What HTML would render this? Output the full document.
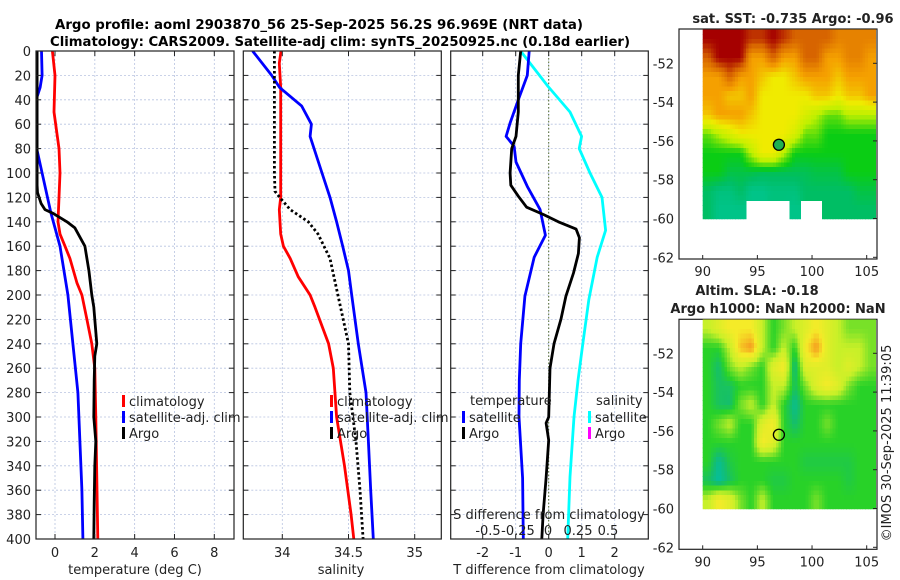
<!DOCTYPE html>
<html><head><meta charset="utf-8"><style>
html,body{margin:0;padding:0;background:#fff;}
svg{display:block;font-family:"DejaVu Sans","Liberation Sans",sans-serif;}
</style></head><body>
<svg id="c" width="900" height="580" viewBox="0 0 900 580" xmlns="http://www.w3.org/2000/svg">
<defs>
<clipPath id="cp1"><rect x="36" y="51" width="198" height="488"/></clipPath>
<clipPath id="cp2"><rect x="243.3" y="51" width="198" height="488"/></clipPath>
<clipPath id="cp3"><rect x="450.7" y="51" width="197.6" height="488"/></clipPath>
<clipPath id="cpm1"><rect x="702.7" y="29" width="173.3" height="190.3"/></clipPath>
<clipPath id="cpm2"><rect x="702.7" y="319.3" width="173.3" height="190"/></clipPath>
</defs>
<text x="55" y="29" font-size="13.5" font-weight="bold" textLength="528" lengthAdjust="spacingAndGlyphs">Argo profile: aoml 2903870_56 25-Sep-2025 56.2S 96.969E (NRT data)</text>
<text x="50" y="46" font-size="13.5" font-weight="bold" textLength="580" lengthAdjust="spacingAndGlyphs">Climatology: CARS2009. Satellite-adj clim: synTS_20250925.nc (0.18d earlier)</text>
<g id="g"></g>
</svg>
<script>
// ---- data ----
const depthTicks=[0,20,40,60,80,100,120,140,160,180,200,220,240,260,280,300,320,340,360,380,400];
const tempTicks=[0,2,4,6,8];
const salTicks=[34,34.5,35];
const tdiffTicks=[-2,-1,0,1,2];
const sdiffTicks=[-0.5,-0.25,0,0.25,0.5];
const sdiffLabels=["-0.5","-0.25","0","0.25","0.5"];
// temperature panel
const argoTDepth=[0,20,50,80,110,116,125,130,133,140,145,160,180,200,210,240,250,270,300,320,340,370,400];
const argoT=[-0.9,-0.9,-0.9,-0.9,-0.9,-0.88,-0.7,-0.5,-0.1,0.6,1.0,1.5,1.7,1.85,1.95,2.1,2.0,1.97,1.95,2.05,2.0,1.97,1.95];
const climTDepth=[0,20,50,80,100,120,140,150,160,170,190,200,220,240,260,300,350,400];
const climT=[-0.13,0,-0.05,0.2,0.25,0.2,0.15,0.25,0.5,0.75,1.1,1.35,1.6,1.85,2.0,2.05,2.1,2.15];
const satTDepth=[0,20,30,40,50,70,80,100,133,160,200,240,280,320,360,400];
const satT=[-0.68,-0.65,-0.75,-0.95,-1.2,-1.2,-0.92,-0.65,-0.2,0.25,0.65,0.9,1.15,1.25,1.35,1.4];
// salinity panel
const satSDepth=[0,20,30,45,60,70,100,120,140,160,180,200,240,280,320,360,400];
const satS=[33.776,33.92,33.98,34.146,34.22,34.21,34.30,34.36,34.41,34.456,34.50,34.524,34.574,34.632,34.65,34.668,34.687];
const climSDepth=[0,10,30,120,130,150,160,170,185,200,210,240,260,300,340,380,400];
const climS=[33.99,33.977,33.988,33.988,33.977,33.988,34.008,34.06,34.12,34.21,34.247,34.35,34.385,34.41,34.47,34.52,34.54];
const argoSDepth=[0,100,115,120,130,140,150,170,180,200,220,240,280,320,360,400];
const argoS=[33.94,33.94,33.945,33.98,34.06,34.196,34.27,34.36,34.38,34.42,34.46,34.50,34.51,34.557,34.587,34.61];
// difference panel
const dSatTDepth=[0,20,40,59,70,78,91,111,130,151,169,201,240,270,300,350,400];
const dSatT=[-0.59,-0.65,-0.92,-1.17,-1.29,-1.05,-0.99,-0.65,-0.26,-0.10,-0.44,-0.72,-0.85,-0.89,-0.9,-0.79,-0.77];
const dArgoTDepth=[0,20,50,70,80,100,110,119,128,134,140,146,153,166,182,201,220,240,260,300,305,319,350,380,400];
const dArgoT=[-0.85,-0.92,-0.92,-0.99,-1.12,-1.17,-1.15,-0.92,-0.67,-0.16,0.29,0.83,0.93,0.90,0.75,0.52,0.37,0.16,0.04,0,-0.08,0,-0.08,-0.17,-0.21];
const dSatSDepth=[0,29,50,70,80,100,120,147,169,204,240,270,300,349,400];
const dSatS=[-0.228,0,0.183,0.28,0.26,0.35,0.45,0.48,0.41,0.34,0.29,0.25,0.217,0.183,0.164];
// maps: rows north->south (~1 deg), cols 90..105 (1 deg)
const sstGrid=[
[6,6,6,6,5.5,5.5,6,5.5,5,5,5,5,4.5,4.5,4.5,4.5],
[5,6,6,6,4,4,5,4,4,5,5,4,4,4.5,4.5,4],
[4,4,5,4,4,3.5,3,3,3.5,4,4,4,3.5,4,4,4],
[4,4,3.5,3.5,4,3,3,3,3,3,3.5,3.5,3,3.5,3.5,4],
[3.5,4,4,4,3.5,3,3,3,3,2.5,2,1.5,1.5,2,2,2],
[1.5,2,2.5,3,3,3,3,3,2.5,1.5,1.5,1,1,1,1,1],
[1,1,1,1,2,3,3,2,1,1,1,1,1,1,1,1],
[1,1,0.7,0.7,0.7,0.6,0.6,0.6,0.6,0.6,0.7,0.7,0.7,1,1,1],
[0.5,0.3,0.3,0.5,0.2,0.2,0.3,0.3,0.3,0.5,0.5,0.5,0.5,0.5,0.7,0.7],
[0.5,0.2,0.2,0.2,-1,-1,-1,-1,0.2,-1,-1,0.5,0.5,0.5,0.5,0.5]];
const slaGrid=[
[2,2.5,3,3,3,2,1,1.5,2,2.5,3,2.5,2,1.5,1.5,1.5],
[1,1,2,3.5,4,2,1,2,1,3,4,2.5,2,2,2,1.5],
[1,0.5,1.5,2,1.5,1,2.5,3,0.3,2.5,2.5,2.5,2,2.5,2,1.5],
[1,0.6,0.6,1,1,1,2,2,0.6,1.5,2.5,3,2.5,1.5,1,1],
[1,0.6,0.5,1.5,2,1,2,1,0.2,1,1,1,1,1,1,1],
[1,1.5,2,1,1,2.5,3,1,0.5,1,1,1.5,1,1,1,1],
[1,1,1,1,1,3,2.5,1,1,1,1,1,1,1,1,1],
[1,0.2,0.8,1,1,1,1,1,1,0.8,0.8,0.8,0.8,0.8,1,1],
[0.6,0.1,0.6,1,1,1,0.8,0.8,1,1,1,1,1,0.8,1,1],
[2,3,2.5,1.5,1,2,1,1,1,1,1.5,1,1,1,1,1]];
const floatLon=96.969, floatLat=-56.2;
const lonTicks=[90,95,100,105];
const latTicks=[-52,-54,-56,-58,-60,-62];

// ---- helpers ----
const NS="http://www.w3.org/2000/svg";
const root=document.getElementById('g');
function mk(tag,attrs,parent){const e=document.createElementNS(NS,tag);for(const k in attrs)e.setAttribute(k,attrs[k]);(parent||root).appendChild(e);return e;}
const Y0=51,Y1=539;
const yD=d=>Y0+(d/400)*(Y1-Y0);
function lin(d0,d1,r0,r1){return v=>r0+(v-d0)/(d1-d0)*(r1-r0);}
const x1=lin(0,8,55,214.3), x2=lin(34,35,282.3,414.7), x3=lin(0,1,548.7,581.7), x3s=lin(0,0.5,548,608);
const panels=[{l:36,r:234,cp:'cp1'},{l:243.3,r:441.3,cp:'cp2'},{l:450.7,r:648.3,cp:'cp3'}];

function grid(p,xt,xf){
  depthTicks.forEach(d=>{
    const l=mk('line',{x1:p.l,x2:p.r,y1:yD(d),y2:yD(d),stroke:'#b8c4e0','stroke-width':0.8,'stroke-dasharray':'2,2'});
    
    
  });
  xt.forEach(v=>{
    const l=mk('line',{x1:xf(v),x2:xf(v),y1:Y0,y2:Y1,stroke:'#b8c4e0','stroke-width':0.8,'stroke-dasharray':'2,2'});
    
    
  });
}
function frame(p,xt,xf,name){
  const r=mk('rect',{x:p.l,y:Y0,width:p.r-p.l,height:Y1-Y0,fill:'none',stroke:'#222','stroke-width':1.2});
  
  
  depthTicks.forEach(d=>{mk('line',{x1:p.l,x2:p.l+5,y1:yD(d),y2:yD(d),stroke:'#222'});mk('line',{x1:p.r-5,x2:p.r,y1:yD(d),y2:yD(d),stroke:'#222'});});
  xt.forEach(v=>{mk('line',{x1:xf(v),x2:xf(v),y1:Y1,y2:Y1-5,stroke:'#222'});mk('line',{x1:xf(v),x2:xf(v),y1:Y0,y2:Y0+5,stroke:'#222'});});
}
function series(depths,vals,xf,color,cp,name,dash){
  const pts=depths.map((d,i)=>xf(vals[i]).toFixed(1)+','+yD(d).toFixed(1)).join(' ');
  const a={points:pts,fill:'none',stroke:color,'stroke-width':2.8,'stroke-linejoin':'round','clip-path':'url(#'+cp+')'};
  if(dash)a['stroke-dasharray']=dash;
  const e=mk('polyline',a);
  
  
}
function txt(x,y,s,attrs,name){const e=mk('text',Object.assign({x:x,y:y,'font-size':13,fill:'#222'},attrs||{}));e.textContent=s;
  
  
  return e;}
function legendRow(x,y,color,label,name){
  const b=mk('rect',{x:x,y:y-11,width:3,height:12,fill:color});
  
  
  txt(x+7,y,label,{'font-size':13},name);
}

// panel 1
grid(panels[0],tempTicks,x1);
series(climTDepth,climT,x1,'#ff0000','cp1','climatology-temp-line');
series(satTDepth,satT,x1,'#0000ff','cp1','satellite-temp-line');
series(argoTDepth,argoT,x1,'#000000','cp1','argo-temp-line');
frame(panels[0],tempTicks,x1,'temperature-axes');
depthTicks.forEach(d=>txt(31,yD(d)+5,String(d),{'text-anchor':'end'},'depth-tick-label'));
tempTicks.forEach(v=>txt(x1(v),557,String(v),{'text-anchor':'middle'},'temp-tick-label'));
txt(135,574,'temperature (deg C)',{'text-anchor':'middle'},'temperature-axis-title');
legendRow(122,406,'#ff0000','climatology','legend-climatology');
legendRow(122,422,'#0000ff','satellite-adj. clim','legend-satellite-adj');
legendRow(122,438,'#000000','Argo','legend-argo');

// panel 2
grid(panels[1],salTicks,x2);
series(climSDepth,climS,x2,'#ff0000','cp2','climatology-sal-line');
series(satSDepth,satS,x2,'#0000ff','cp2','satellite-sal-line');
series(argoSDepth,argoS,x2,'#000000','cp2','argo-sal-line','2.5,2.5');
frame(panels[1],salTicks,x2,'salinity-axes');
salTicks.forEach(v=>txt(x2(v),557,String(v),{'text-anchor':'middle'},'sal-tick-label'));
txt(341,574,'salinity',{'text-anchor':'middle'},'salinity-axis-title');
legendRow(330,406,'#ff0000','climatology','legend-climatology-2');
legendRow(330,422,'#0000ff','satellite-adj. clim','legend-satellite-adj-2');
legendRow(330,438,'#000000','Argo','legend-argo-2');

// panel 3
grid(panels[2],tdiffTicks,x3);
const zl=mk('line',{x1:x3(0),x2:x3(0),y1:Y0,y2:Y1,stroke:'#556b2f','stroke-width':1,'stroke-dasharray':'1.5,2'});


series(dSatSDepth,dSatS,x3s,'#00ffff','cp3','satellite-sal-diff-line');
series(dSatTDepth,dSatT,x3,'#0000ff','cp3','satellite-temp-diff-line');
series(dArgoTDepth,dArgoT,x3,'#000000','cp3','argo-temp-diff-line');
frame(panels[2],tdiffTicks,x3,'difference-axes');
tdiffTicks.forEach(v=>txt(x3(v),557,String(v),{'text-anchor':'middle'},'tdiff-tick-label'));
txt(549,574,'T difference from climatology',{'text-anchor':'middle'},'tdiff-axis-title');
txt(549,519,'S difference from climatology',{'text-anchor':'middle'},'sdiff-axis-title');
sdiffTicks.forEach((v,i)=>txt(x3s(v),535,sdiffLabels[i],{'text-anchor':'middle'},'sdiff-tick-label'));
txt(470,405,'temperature',{},'legend-temperature-title');
legendRow(462,422,'#0000ff','satellite','legend-temp-satellite');
legendRow(462,438,'#000000','Argo','legend-temp-argo');
txt(596,405,'salinity',{},'legend-salinity-title');
legendRow(588,422,'#00ffff','satellite','legend-sal-satellite');
legendRow(588,438,'#ff00ff','Argo','legend-sal-argo');

// ---- maps ----
function sstColor(v){
  if(v<0)return null;
  const stops=[[0,[0,200,160]],[0.5,[0,190,100]],[1,[10,205,20]],[2,[190,240,0]],[3,[240,235,0]],[4,[245,160,0]],[5,[215,100,0]],[6,[165,0,0]]];
  return interp(stops,v);
}
function slaColor(v){
  const stops=[[0,[0,190,170]],[0.5,[20,190,110]],[1,[40,210,40]],[2,[200,240,40]],[3,[245,235,40]],[4,[245,150,30]]];
  return interp(stops,v);
}
function interp(stops,v){
  for(let i=0;i<stops.length-1;i++){const a=stops[i],b=stops[i+1];if(v<=b[0]){const t=(v-a[0])/(b[0]-a[0]);const c=a[1].map((x,k)=>Math.round(x+(b[1][k]-x)*Math.max(0,t)));return 'rgb('+c+')';}}
  return 'rgb('+stops[stops.length-1][1]+')';
}
// smooth display sampling of a grid (rendering only)
function sample(gr,fr,fc){
  const nr=gr.length,nc=gr[0].length;
  const r=Math.min(Math.max(fr-0.5,0),nr-1), c=Math.min(Math.max(fc-0.5,0),nc-1);
  const r0=Math.floor(r),c0=Math.floor(c),r1=Math.min(r0+1,nr-1),c1=Math.min(c0+1,nc-1);
  const tr=r-r0,tc=c-c0;
  const vals=[gr[r0][c0],gr[r0][c1],gr[r1][c0],gr[r1][c1]];
  // nearest value NaN -> NaN
  const nv=gr[Math.min(Math.floor(fr),nr-1)][Math.min(Math.floor(fc),nc-1)];
  if(nv<0)return -1;
  const fix=vals.map(v=>v<0?nv:v);
  return fix[0]*(1-tr)*(1-tc)+fix[1]*(1-tr)*tc+fix[2]*tr*(1-tc)+fix[3]*tr*tc;
}
function drawMap(o){
  const lonX=lin(90,105,702.7,866.7), latY=lin(-52,-62,o.y52,o.y62);
  const bx=mk('rect',{x:679,y:o.top,width:198,height:o.bot-o.top,fill:'#fff',stroke:'#222','stroke-width':1.2});
  
  
  const gg=mk('g',{'clip-path':'url(#'+o.cp+')','shape-rendering':'crispEdges'});
  const nr=o.grid.length,nc=o.grid[0].length;
  const latTop=-50.25, latBot=-60.05, lonR=105.85;
  const S=4;
  for(let r=0;r<nr*S;r++)for(let c=0;c<nc*S;c++){
    const v=sample(o.grid,(r+0.5)/S,(c+0.5)/S);
    const col=o.cf(v); if(!col)continue;
    const xa=lonX(90+c*(lonR-90)/(nc*S)), xb=lonX(90+(c+1)*(lonR-90)/(nc*S));
    const ya=latY(latTop-r*(latTop-latBot)/(nr*S)), yb=latY(latTop-(r+1)*(latTop-latBot)/(nr*S));
    const e=mk('rect',{x:xa.toFixed(2),y:ya.toFixed(2),width:(xb-xa+0.6).toFixed(2),height:(yb-ya+0.6).toFixed(2),fill:col},gg);
    
    
  }
  const m=mk('circle',{cx:lonX(floatLon),cy:latY(floatLat),r:5.5,fill:o.fill,stroke:'#000','stroke-width':1.3});
  
  
  lonTicks.forEach(v=>{mk('line',{x1:lonX(v),x2:lonX(v),y1:o.bot,y2:o.bot-4,stroke:'#222'});txt(lonX(v),o.bot+17,String(v),{'text-anchor':'middle'},'lon-tick-label');});
  latTicks.forEach(v=>{mk('line',{x1:877,x2:873,y1:latY(v),y2:latY(v),stroke:'#222'});txt(674,latY(v)+5,String(v),{'text-anchor':'end'},'lat-tick-label');});
}
drawMap({name:'sst-map',top:29,bot:259,y52:63.3,y62:257.3,cp:'cpm1',grid:sstGrid,cf:sstColor,fill:'#20b050'});
drawMap({name:'sla-map',top:319.3,bot:549.3,y52:353.3,y62:547.3,cp:'cpm2',grid:slaGrid,cf:slaColor,fill:'none'});
txt(793,23,'sat. SST: -0.735 Argo: -0.96',{'text-anchor':'middle','font-weight':'bold'},'sst-map-title');
txt(757,295,'Altim. SLA: -0.18',{'text-anchor':'middle','font-weight':'bold'},'sla-map-title');
txt(778,313,'Argo h1000: NaN h2000: NaN',{'text-anchor':'middle','font-weight':'bold'},'sla-map-subtitle');
txt(0,0,'©IMOS 30-Sep-2025 11:39:05',{'text-anchor':'middle',transform:'translate(891,443) rotate(-90)'},'imos-timestamp');
</script>
</body></html>
